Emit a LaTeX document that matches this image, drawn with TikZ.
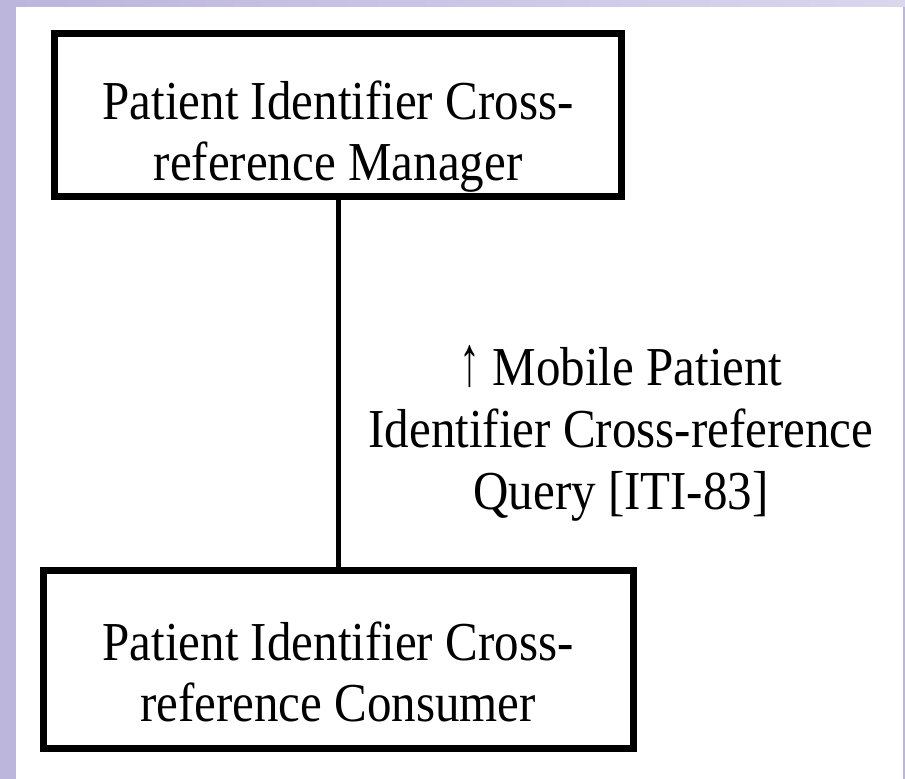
\documentclass[tikz,border=0pt]{standalone}
\usepackage{fontspec}
\setmainfont{Liberation Serif}
\definecolor{frameA}{RGB}{188,181,220}
\definecolor{frameB}{RGB}{218,214,238}
% text set slightly tall and narrow, as on the slide
\newcommand{\tallstack}[2]{\scalebox{1}[1.12]{\fontsize{49bp}{#1}\selectfont\begin{tabular}{@{}c@{}}#2\end{tabular}}}
\newcommand{\uparrowglyph}{\scalebox{0.85}[1.3]{↑}}
\begin{document}
\begin{tikzpicture}[x=1bp,y=-1bp,
  actorbox/.style={draw=black, line width=7bp, fill=white, rectangle, inner sep=0pt},
  boxtext/.style={inner sep=0pt},
  link/.style={draw=black, line width=4.5bp}]
  \useasboundingbox (0,0) rectangle (905,779);
  % slide frame
  \fill[frameA] (0,0) rectangle (905,779);
  \shade[left color=frameA, right color=frameB] (0,0) rectangle (905,7);
  \fill[white] (16,7) rectangle (903,779);
  % actors
  \node[actorbox, minimum width=566.5bp, minimum height=162bp] (mgr) at (338.25,115) {};
  \node[actorbox, minimum width=589.5bp, minimum height=178bp] (con) at (338.75,659) {};
  \node[boxtext] (mgrtxt) at (338,138) {\tallstack{54.5bp}{Patient Identifier Cross-\\reference Manager}};
  \node[boxtext] (contxt) at (338,679) {\tallstack{54.5bp}{Patient Identifier Cross-\\reference Consumer}};
  % transaction
  \draw[link] (mgr.south) -- (mgr.south |- con.north);
  \node[boxtext] (tx) at (621,435) {\tallstack{55.5bp}{\uparrowglyph\ Mobile Patient\\Identifier Cross-reference\\Query [ITI-83]}};
\end{tikzpicture}
\end{document}
